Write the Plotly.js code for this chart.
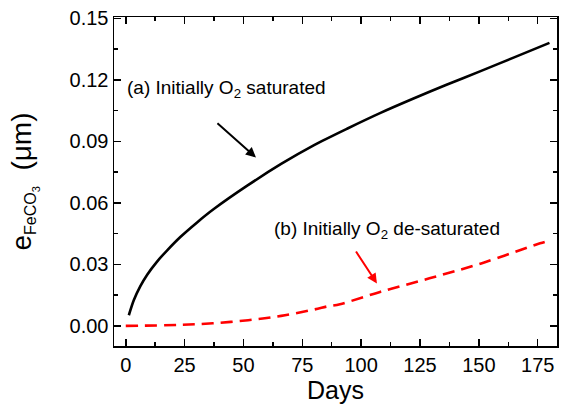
<!DOCTYPE html>
<html>
<head>
<meta charset="utf-8">
<script src="https://cdn.plot.ly/plotly-3.0.1.min.js"></script>
<style>html,body{margin:0;padding:0;background:#fff;}#chart{width:563px;height:405px;}</style>
</head>
<body>
<div id="chart"></div>
<script>
// Series (a): initially O2 saturated
const daysA = [1.3, 3.4, 6.2, 9.1, 13.3, 17.6, 23.3, 30.3, 37.4, 51.6, 66, 80, 94, 108, 122, 136, 151, 165, 180];
const eA = [0.0052, 0.0125, 0.0194, 0.0250, 0.0314, 0.0369, 0.0435, 0.0505, 0.0570, 0.0684, 0.0790, 0.0882, 0.0962, 0.1038, 0.1108, 0.1175, 0.1244, 0.1310, 0.1381];
// Series (b): initially O2 de-saturated
const daysB = [0, 23, 37, 52, 66, 80, 86, 91, 108, 129, 151, 176, 180];
const eB = [0.0000, 0.0005, 0.0013, 0.0028, 0.0049, 0.0080, 0.0096, 0.0106, 0.0166, 0.0232, 0.0305, 0.0403, 0.0416];
const xTicks = [0, 25, 50, 75, 100, 125, 150, 175];
const yTicks = [0.00, 0.03, 0.06, 0.09, 0.12, 0.15];
const labelA = '(a) Initially O<sub>2</sub> saturated';
const labelB = '(b) Initially O<sub>2</sub> de-saturated';
const yTitle = 'e<sub><span style="font-size:16px">FeCO<sub><span style="font-size:11px">3</span></sub></span></sub> &nbsp;(μm)';

const font = 'Liberation Sans, Arial, sans-serif';
const traces = [
  {x: daysA, y: eA, mode: 'lines', line: {color: '#000000', width: 2.6, shape: 'spline', smoothing: 0.8}, hoverinfo: 'skip'},
  {x: daysB, y: eB, mode: 'lines', line: {color: '#ff0000', width: 2.6, dash: '12px,7px', shape: 'spline'}, hoverinfo: 'skip'}
];
const axisCommon = {
  showline: true, linecolor: '#000', linewidth: 1.5, mirror: 'ticks',
  ticks: 'inside', ticklen: 7, tickwidth: 1.5, tickcolor: '#000',
  showgrid: false, zeroline: false,
  tickfont: {family: font, size: 20, color: '#000'}
};
const layout = {
  width: 563, height: 405,
  margin: {l: 114, r: 6, t: 17, b: 59},
  paper_bgcolor: '#fff', plot_bgcolor: '#fff',
  showlegend: false,
  xaxis: Object.assign({}, axisCommon, {
    range: [-5, 183.2], tickvals: xTicks, ticktext: xTicks.map(String),
    minor: {ticks: 'inside', ticklen: 4, tickwidth: 1.5, tickcolor: '#000', dtick: 12.5, tick0: 0, showgrid: false},
    title: {text: 'Days', font: {family: font, size: 25, color: '#000'}, standoff: 5}
  }),
  yaxis: Object.assign({}, axisCommon, {
    range: [-0.0098, 0.1507], tickvals: yTicks, ticktext: yTicks.map(v => v.toFixed(2)),
    minor: {ticks: 'inside', ticklen: 4, tickwidth: 1.5, tickcolor: '#000', dtick: 0.015, tick0: 0, showgrid: false},
    title: {text: yTitle, font: {family: font, size: 28, color: '#000'}, standoff: 30}
  }),
  annotations: [
    {x: -0.5, y: 0.1155, xref: 'x', yref: 'y', showarrow: false, text: labelA, xanchor: 'left', yanchor: 'middle',
     font: {family: font, size: 19, color: '#000'}},
    {x: 62, y: 0.0469, xref: 'x', yref: 'y', showarrow: false, text: labelB, xanchor: 'left', yanchor: 'middle',
     font: {family: font, size: 19, color: '#000'}},
    {x: 55.3, y: 0.0822, ax: 38.3, ay: 0.0995, axref: 'x', ayref: 'y', xref: 'x', yref: 'y', text: '', showarrow: true,
     arrowhead: 2, arrowsize: 1, arrowwidth: 2, arrowcolor: '#000'},
    {x: 106.7, y: 0.0207, ax: 97.4, ay: 0.037, axref: 'x', ayref: 'y', xref: 'x', yref: 'y', text: '', showarrow: true,
     arrowhead: 2, arrowsize: 1, arrowwidth: 2, arrowcolor: '#ff0000'}
  ]
};
Plotly.newPlot('chart', traces, layout, {staticPlot: true, displayModeBar: false});
</script>
</body>
</html>
